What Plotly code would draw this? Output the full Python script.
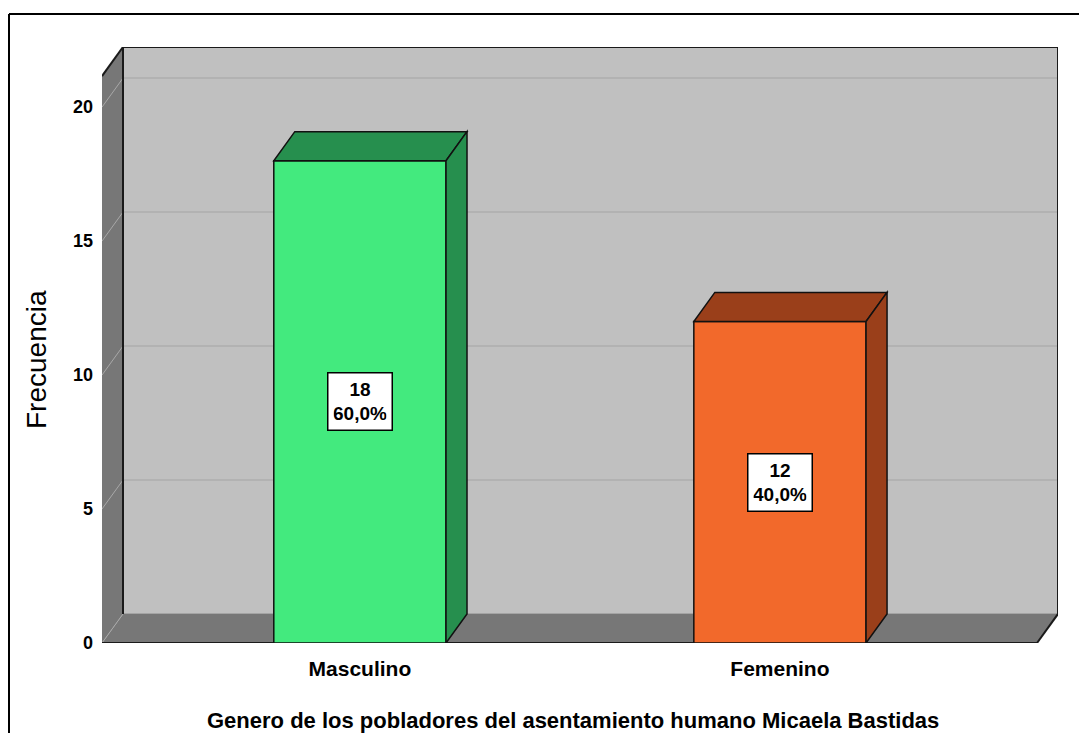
import plotly.graph_objects as go

categorias = ['Masculino', 'Femenino']
frecuencias = [18, 12]
porcentajes = ['60,0%', '40,0%']
colores_frente = ['#43EA7E', '#F2692B']
colores_lado = ['#268F4E', '#9A3F1A']
yticks = [0, 5, 10, 15, 20]

# geometria del "3D": desplazamiento de profundidad en unidades de datos
DX = 0.05
DY = 1.084
X0, X1 = -0.614, 1.612
YMAX = 21.16
ANCHO = 0.41

# la pagina deja 8 px de margen en el body
OFF = 8
W, H = 1087 - OFF, 733 - OFF
L, R, T, B = 102 - OFF, 29, 47 - OFF, 90
pw, ph = W - L - R, H - T - B


def px(x):
    return (x - OFF - L) / pw


def py(y):
    return (H - B - (y - OFF)) / ph


def poly(pts):
    return 'M ' + ' L '.join(f'{a},{b}' for a, b in pts) + ' Z'


shapes = []
# pared del fondo
shapes.append(dict(type='rect', x0=X0 + DX, x1=X1 + DX, y0=DY, y1=YMAX + DY,
                   fillcolor='#C0C0C0', line=dict(width=0), layer='below'))
# lineas de la cuadricula del fondo
for v in yticks:
    shapes.append(dict(type='line', x0=X0 + DX, x1=X1 + DX, y0=v + DY, y1=v + DY,
                       line=dict(color='#B2B2B2' if v else '#A4A4A4', width=2), layer='below'))
# pared izquierda
shapes.append(dict(type='path', path=poly([(X0, 0), (X0, YMAX), (X0 + DX, YMAX + DY), (X0 + DX, DY)]),
                   fillcolor='#777777', line=dict(width=0), layer='below'))
# suelo
shapes.append(dict(type='path', path=poly([(X0, 0), (X1, 0), (X1 + DX, DY), (X0 + DX, DY)]),
                   fillcolor='#777777', line=dict(width=0), layer='below'))
# cuadricula diagonal de la pared izquierda
for v in yticks:
    shapes.append(dict(type='line', x0=X0, x1=X0 + DX, y0=v, y1=v + DY,
                       line=dict(color='#A8A8A8', width=1), layer='below'))
# bordes
borde = dict(color='#1A1A1A', width=2)
shapes.append(dict(type='line', x0=X0 + DX, x1=X0 + DX, y0=DY, y1=YMAX + DY, line=borde, layer='below'))
shapes.append(dict(type='line', x0=X0 + DX, x1=X1 + DX, y0=YMAX + DY, y1=YMAX + DY, line=borde, layer='below'))
shapes.append(dict(type='line', x0=X1 + DX, x1=X1 + DX, y0=DY, y1=YMAX + DY, line=borde, layer='below'))
shapes.append(dict(type='line', x0=X0, x1=X0 + DX, y0=YMAX, y1=YMAX + DY, line=borde, layer='below'))
shapes.append(dict(type='line', x0=X1, x1=X1 + DX, y0=0, y1=DY, line=borde, layer='below'))
shapes.append(dict(type='line', x0=X0, x1=X1, y0=0, y1=0, line=borde, layer='below'))

# caras superior y lateral de las barras
for i, v in enumerate(frecuencias):
    a, b = i - ANCHO / 2, i + ANCHO / 2
    shapes.append(dict(type='path', path=poly([(a, v), (b, v), (b + DX, v + DY), (a + DX, v + DY)]),
                       fillcolor=colores_lado[i], line=dict(color='#111111', width=1.5)))
    shapes.append(dict(type='path', path=poly([(b, 0), (b, v), (b + DX, v + DY), (b + DX, DY)]),
                       fillcolor=colores_lado[i], line=dict(color='#111111', width=1.5)))

# marco exterior
shapes.append(dict(type='line', xref='paper', yref='paper', x0=px(9), x1=px(1100), y0=py(14), y1=py(14),
                   line=dict(color='black', width=2)))
shapes.append(dict(type='line', xref='paper', yref='paper', x0=px(9), x1=px(9), y0=py(14), y1=py(760),
                   line=dict(color='black', width=2)))

fuente = 'Liberation Sans, Arial, sans-serif'

fig = go.Figure()
fig.add_trace(go.Bar(x=[0, 1], y=frecuencias, width=ANCHO,
                     marker=dict(color=colores_frente, line=dict(color='#111111', width=1.5)),
                     hoverinfo='skip'))

annotations = []
for i, v in enumerate(frecuencias):
    annotations.append(dict(x=i, y=v / 2, xref='x', yref='y', showarrow=False,
                            text=f'<b>{v}<br>{porcentajes[i]}</b>',
                            font=dict(family=fuente, size=19, color='black'),
                            bgcolor='white', bordercolor='black', borderwidth=1.5,
                            borderpad=5, width=53))
annotations.append(dict(x=px(37), y=py(360), xref='paper', yref='paper', showarrow=False,
                        xanchor='center', yanchor='middle',
                        text='Frecuencia', textangle=-90,
                        font=dict(family=fuente, size=28, color='black')))
annotations.append(dict(x=px(573), y=py(720), xref='paper', yref='paper', showarrow=False,
                        xanchor='center', yanchor='middle',
                        text='<b>Genero de los pobladores del asentamiento humano Micaela Bastidas</b>',
                        font=dict(family=fuente, size=22, color='black')))

fig.update_layout(
    width=W, height=H,
    margin=dict(l=L, r=R, t=T, b=B),
    paper_bgcolor='white', plot_bgcolor='white',
    showlegend=False,
    shapes=shapes,
    annotations=annotations,
    xaxis=dict(range=[X0, X1 + DX], tickvals=[0, 1], ticktext=[f'<b>{c}</b>' for c in categorias],
               showgrid=False, zeroline=False, showline=False, ticks='',
               ticklabelstandoff=11, tickfont=dict(family=fuente, size=21, color='black')),
    yaxis=dict(range=[0, YMAX + DY], tickvals=yticks, ticktext=[f'<b>{t}</b>' for t in yticks],
               showgrid=False, zeroline=False, showline=False, ticks='',
               ticklabelstandoff=8, tickfont=dict(family=fuente, size=18, color='black')),
)

fig.write_html('out.html')
